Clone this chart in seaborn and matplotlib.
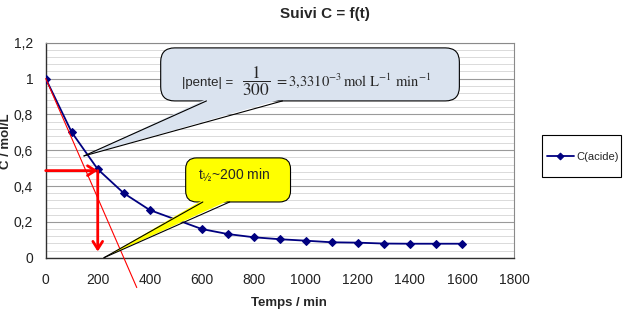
import numpy as np
import pandas as pd
import matplotlib
matplotlib.use("Agg")
import matplotlib.pyplot as plt
import seaborn as sns
from matplotlib.patches import FancyBboxPatch, Polygon, Rectangle
from matplotlib.lines import Line2D
from matplotlib.transforms import IdentityTransform
from matplotlib.ticker import MultipleLocator, FuncFormatter

# Concentration of the acid over time
temps = [0, 100, 200, 300, 400, 600, 700, 800, 900, 1000, 1100, 1200, 1300, 1400, 1500, 1600]
conc = [1.0, 0.70, 0.494, 0.36, 0.266, 0.160, 0.132, 0.114, 0.103, 0.095,
        0.086, 0.084, 0.079, 0.078, 0.078, 0.078]
series_name = "C(acide)"

# Initial tangent slope and half-life reading
pente = 1 / 300
t_demi = 200
c_demi = 0.486

x_ticks = [0, 200, 400, 600, 800, 1000, 1200, 1400, 1600, 1800]
y_ticks = [0, 0.2, 0.4, 0.6, 0.8, 1.0, 1.2]

df = pd.DataFrame({"Temps": temps, "C": conc})

sns.set_style("white")
plt.rcParams["font.family"] = ["Liberation Sans", "DejaVu Sans"]

W, H = 628, 332
fig = plt.figure(figsize=(W / 100, H / 100), dpi=100)
ax = fig.add_axes([45.7 / W, 1 - 257.7 / H, (514 - 45.7) / W, (257.7 - 42.7) / H])

navy = "#000080"
sns.lineplot(data=df, x="Temps", y="C", ax=ax, color=navy, marker="D",
             markersize=4.3, markeredgecolor=navy, markerfacecolor=navy,
             linewidth=1.3, label=series_name, zorder=3)

ax.set_xlim(0, 1800)
ax.set_ylim(0, 1.2)
ax.set_xticks(x_ticks)
ax.set_yticks(y_ticks)
comma = FuncFormatter(lambda v, _: f"{v:g}".replace(".", ","))
ax.xaxis.set_major_formatter(comma)
ax.yaxis.set_major_formatter(comma)
ax.yaxis.set_minor_locator(MultipleLocator(0.04))

ax.set_axisbelow(True)
ax.grid(which="major", axis="y", color="#9a9a9a", linewidth=0.8)
ax.grid(which="minor", axis="y", color="#d4d4d4", linewidth=0.6)
ax.grid(which="major", axis="x", visible=False)
ax.tick_params(which="major", direction="out", length=4, width=0.8,
               color="#404040", labelsize=10, labelcolor="#222222")
ax.tick_params(axis="x", pad=7)
ax.tick_params(axis="y", pad=5)
ax.tick_params(which="minor", length=0)

for side in ["left", "bottom"]:
    ax.spines[side].set_color("#303030")
    ax.spines[side].set_linewidth(1.0)
for side in ["top", "right"]:
    ax.spines[side].set_visible(True)
    ax.spines[side].set_color("#8a8a8a")
    ax.spines[side].set_linewidth(0.8)

ax.set_xlabel("Temps / min", fontsize=9.5, fontweight="bold")
ax.set_ylabel("C / mol/L", fontsize=9.5, fontweight="bold")
ax.xaxis.set_label_coords(0.52, -0.185)
ax.yaxis.set_label_coords(-0.072, 0.54)

fig.text(325 / W, 1 - 14 / H, "Suivi C = f(t)", fontsize=11, fontweight="bold",
         ha="center", va="center")

# Initial tangent to the curve
x_tan = np.array([0, 350])
ax.plot(x_tan, 1 - pente * x_tan, color="red", linewidth=0.8, clip_on=False, zorder=4)

# Half-life reading arrows
arrow_kw = dict(arrowstyle="->,head_length=0.55,head_width=0.35", color="red",
                lw=2, shrinkA=0, shrinkB=0)
ax.annotate("", xy=(t_demi, c_demi), xytext=(0, c_demi), arrowprops=arrow_kw, zorder=5)
ax.annotate("", xy=(t_demi, 0.034), xytext=(t_demi, c_demi), arrowprops=arrow_kw, zorder=5)


def callout(box, base, tip, fc, rounding):
    """Rounded box with a pointed wedge, box/base/tip given in data units."""
    T = ax.transData
    X0, Y0 = T.transform((box[0], box[1]))
    X1, Y1 = T.transform((box[2], box[3]))
    XA, _ = T.transform((base[0], box[1]))
    XB, _ = T.transform((base[1], box[1]))
    TX, TY = T.transform(tip)
    patch = FancyBboxPatch((X0, Y0), X1 - X0, Y1 - Y0,
                           boxstyle=f"round,pad=0,rounding_size={rounding}",
                           transform=IdentityTransform(), facecolor=fc,
                           edgecolor="black", linewidth=0.8, clip_on=False, zorder=6)
    ax.add_patch(patch)
    wedge = Polygon([(XA, Y0 + 2), (XB, Y0 + 2), (TX, TY)], closed=True,
                    transform=IdentityTransform(), facecolor=fc, edgecolor="none",
                    clip_on=False, zorder=7)
    ax.add_patch(wedge)
    for xb in (XA, XB):
        ax.add_line(Line2D([xb, TX], [Y0, TY], transform=IdentityTransform(),
                           color="black", linewidth=0.8, clip_on=False, zorder=8))


callout((442, 0.875, 1590, 1.171), (618, 910), (147, 0.568), "#dae3ef", 14)
callout((538, 0.311, 941, 0.557), (604, 707), (224, 0.0), "#ffff00", 11)

# Slope of the tangent
ax.text(522, 0.975, "|pente| =", fontsize=9.5, ha="left", va="center", zorder=9)
ax.text(810, 0.985, r"$\dfrac{1}{300}$", math_fontfamily="stix", fontsize=12.5,
        ha="center", va="center", zorder=9)
ax.text(876, 0.985,
        r"$= 3{,}33 10^{-3}\,\mathrm{mol}\ \mathrm{L}^{-1}\ \mathrm{min}^{-1}$",
        math_fontfamily="stix", fontsize=10.5, ha="left", va="center", zorder=9)

# Half-life reading
ax.text(585, 0.462, r"t$_{½}$~200 min", math_fontfamily="dejavusans",
        fontsize=10, ha="left", va="center", zorder=9)

leg = ax.legend(loc="center left", bbox_to_anchor=(547 / W, 1 - 156.5 / H),
                bbox_transform=fig.transFigure, frameon=False, fontsize=8,
                borderpad=0, borderaxespad=0, handlelength=2.4,
                handletextpad=0.2, markerscale=0.8)
fig.add_artist(Rectangle((542 / W, 1 - 177 / H), 79 / W, 42 / H,
                         transform=fig.transFigure, fill=False,
                         edgecolor="black", linewidth=0.8))

fig.savefig("out.png", dpi=100)
